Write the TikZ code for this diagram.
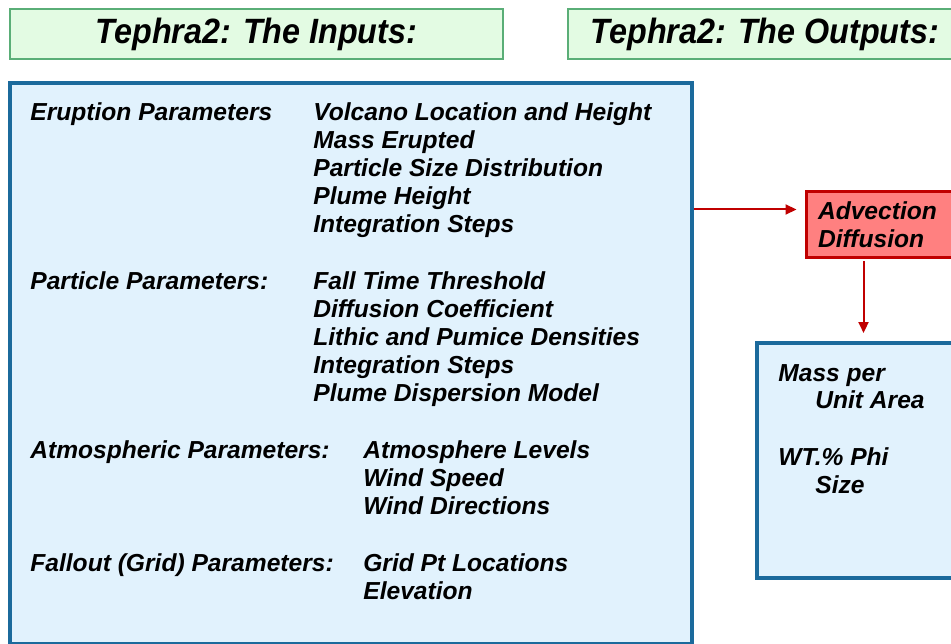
\documentclass[tikz,border=0pt]{standalone}
\usepackage{fontspec}
\setmainfont{Liberation Sans}
\newfontfamily\titlefont[FakeStretch=0.92]{Liberation Sans}
\usetikzlibrary{arrows.meta,positioning,calc}
\definecolor{headfill}{HTML}{E3FBE3}
\definecolor{headline}{HTML}{5AAE77}
\definecolor{boxfill}{HTML}{E1F2FD}
\definecolor{boxline}{HTML}{1B6A9C}
\definecolor{advfill}{HTML}{FF8080}
\definecolor{advline}{HTML}{C00000}

\begin{document}
\begin{tikzpicture}[x=0.02cm, y=-0.02cm, >={Triangle[length=0.22cm, width=0.2cm]},
  header/.style={draw=headline, line width=0.04cm, fill=headfill, minimum height=1cm, inner sep=0pt,
    font=\titlefont\fontsize{20}{24}\selectfont\bfseries\itshape},
  panel/.style={draw=boxline, line width=0.08cm, fill=boxfill, inner sep=0pt},
  txt/.style={anchor=base west, inner sep=0pt, font=\fontsize{14}{16.8}\selectfont\bfseries\itshape},
  flow/.style={->, draw=advline, line width=0.04cm, shorten >=0.16cm}]
\useasboundingbox (0,0) rectangle (951,644);
\node[header, minimum width=9.86cm] (hin) at (256.5,34) {Tephra2: The Inputs:};
\node[header, minimum width=7.88cm] (hout) at (765,34) {Tephra2: The Outputs:};
\node[panel, minimum width=13.64cm, minimum height=11.22cm] (inputs) at (351,363.5) {};
\node[panel, draw=advline, line width=0.06cm, fill=advfill, minimum width=3.2cm, minimum height=1.32cm,
  inner xsep=0.24cm, text width=2.72cm, align=left, font=\fontsize{14}{15.9}\selectfont\bfseries\itshape]
  (advect) at (886,225) {Advection\\Diffusion};
\node[panel, minimum width=4.16cm, minimum height=4.7cm] (output) at (861,460.5) {};
% input groups
\node[txt] (erupt) at (30,121) {Eruption Parameters};
\foreach \t [count=\i] in {Volcano Location and Height, Mass Erupted, Particle Size Distribution, Plume Height, Integration Steps}
  \node[txt] (erupt\i) at (313,93+28*\i) {\t};
\node[txt] (part) at (30,290) {Particle Parameters:};
\foreach \t [count=\i] in {Fall Time Threshold, Diffusion Coefficient, Lithic and Pumice Densities, Integration Steps, Plume Dispersion Model}
  \node[txt] (part\i) at (313,262+28*\i) {\t};
\node[txt] (atmo) at (30,459) {Atmospheric Parameters:};
\foreach \t [count=\i] in {Atmosphere Levels, Wind Speed, Wind Directions}
  \node[txt] (atmo\i) at (363,431+28*\i) {\t};
\node[txt] (grid) at (30,572) {Fallout (Grid) Parameters:};
\foreach \t [count=\i] in {Grid Pt Locations, Elevation}
  \node[txt] (grid\i) at (363,544+28*\i) {\t};
% outputs
\node[txt] (mass) at (778,382) {Mass per};
\node[txt] (area) at (815,409) {Unit Area};
\node[txt] (phi) at (778,466) {WT.\% Phi};
\node[txt] (size) at (815,494) {Size};
\coordinate (feed) at ($(advect.north west)+(0,19)$);
\draw[flow] (inputs.east |- feed) -- (feed);
\coordinate (drop) at ($(advect.south west)+(59,0)$);
\draw[flow, shorten <=0.04cm] (drop) -- (drop |- output.north);
\end{tikzpicture}
\end{document}
